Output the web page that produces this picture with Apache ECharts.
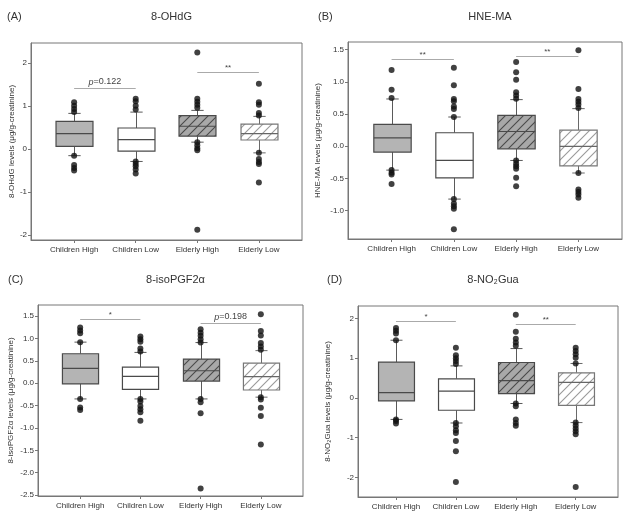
<!DOCTYPE html>
<html><head><meta charset="utf-8">
<script src="https://cdn.jsdelivr.net/npm/echarts@6/dist/echarts.min.js"></script>
<style>html,body{margin:0;padding:0;background:#fff}#c{width:632px;height:514px}</style>
</head><body><div id="c"></div>
<script>
const categories = ['Children High', 'Children Low', 'Elderly High', 'Elderly Low'];

// box stats per group: [lower whisker, Q1, median, Q3, upper whisker]
const ohdgBoxes = [[-0.155, 0.06, 0.36, 0.645, 0.83], [-0.29, -0.05, 0.22, 0.49, 0.86], [0.16, 0.30, 0.53, 0.78, 0.90], [-0.09, 0.21, 0.36, 0.58, 0.76]];
const ohdgOutliers = [[1.09, 1.01, 0.93, 0.86, -0.155, -0.37, -0.44, -0.5], [1.17, 1.11, 1.01, 0.92, -0.29, -0.35, -0.40, -0.48, -0.57], [2.25, 1.17, 1.10, 1.03, 0.96, 0.155, 0.085, 0.02, -0.03, -1.88], [1.52, 1.09, 1.03, 0.84, 0.78, -0.09, -0.23, -0.30, -0.35, -0.78]];
const ohdgSig = [[1, 2, 1.41, '{i|p}=0.122'], [3, 4, 1.79, '**']];
const ohdgTicks = [-2, -1, 0, 1, 2];

const hneBoxes = [[-0.37, -0.09, 0.13, 0.34, 0.735], [-0.82, -0.49, -0.22, 0.21, 0.455], [-0.22, -0.04, 0.23, 0.48, 0.725], [-0.415, -0.305, 0.0, 0.25, 0.585]];
const hneOutliers = [[1.185, 0.88, 0.75, -0.37, -0.41, -0.44, -0.585], [1.22, 0.95, 0.735, 0.70, 0.62, 0.58, 0.455, -0.82, -0.89, -0.93, -0.97, -1.29], [1.31, 1.15, 1.035, 0.84, 0.79, 0.74, -0.22, -0.27, -0.31, -0.35, -0.49, -0.62], [1.49, 0.89, 0.735, 0.69, 0.65, 0.595, -0.415, -0.67, -0.71, -0.75, -0.80]];
const hneSig = [[1, 2, 1.36, '**'], [3, 4, 1.41, '**']];
const hneTicks = [-1.0, -0.5, 0.0, 0.5, 1.0, 1.5];

const isoBoxes = [[-0.35, -0.015, 0.335, 0.66, 0.92], [-0.35, -0.135, 0.155, 0.36, 0.69], [-0.35, 0.05, 0.28, 0.54, 0.91], [-0.31, -0.15, 0.15, 0.45, 0.73]];
const isoOutliers = [[1.245, 1.18, 1.12, 0.92, -0.35, -0.54, -0.6], [1.045, 0.985, 0.93, 0.78, 0.71, -0.35, -0.41, -0.51, -0.58, -0.65, -0.84], [1.21, 1.13, 1.06, 0.985, 0.91, -0.35, -0.425, -0.67, -2.35], [1.545, 1.17, 1.07, 0.9, 0.82, 0.75, -0.31, -0.36, -0.545, -0.73, -1.37]];
const isoSig = [[1, 2, 1.43, '*'], [3, 4, 1.34, '{i|p}=0.198']];
const isoTicks = [-2.5, -2.0, -1.5, -1.0, -0.5, 0.0, 0.5, 1.0, 1.5];

const no2Boxes = [[-0.54, -0.075, 0.135, 0.9, 1.45], [-0.63, -0.31, 0.17, 0.48, 0.805], [-0.14, 0.11, 0.435, 0.89, 1.24], [-0.62, -0.185, 0.39, 0.63, 0.865]];
const no2Outliers = [[1.76, 1.69, 1.62, 1.45, -0.54, -0.58, -0.64], [1.26, 1.07, 1.0, 0.93, 0.85, -0.63, -0.71, -0.81, -0.88, -1.08, -1.34, -2.11], [2.09, 1.66, 1.49, 1.39, 1.31, -0.14, -0.21, -0.54, -0.63, -0.70], [1.26, 1.18, 1.1, 1.01, 0.865, -0.62, -0.69, -0.77, -0.84, -0.91, -2.24]];
const no2Sig = [[1, 2, 1.94, '*'], [3, 4, 1.87, '**']];
const no2Ticks = [-2, -1, 0, 1, 2];

// ---------- styling / layout ----------
function hatch(bg, fg) {
  const s = 9;
  const c = document.createElement('canvas');
  c.width = s; c.height = s;
  const g = c.getContext('2d');
  g.fillStyle = bg; g.fillRect(0, 0, s, s);
  g.strokeStyle = fg; g.lineWidth = 1.1;
  g.beginPath();
  g.moveTo(-1, s + 1); g.lineTo(s + 1, -1);
  g.moveTo(-1, 1); g.lineTo(1, -1);
  g.moveTo(s - 1, s + 1); g.lineTo(s + 1, s - 1);
  g.stroke();
  return { image: c, repeat: 'repeat' };
}
const boxStyles = [
  { fill: '#b4b4b4', stroke: '#4a4a4a', median: '#4a4a4a', whisker: '#5a5a5a' },
  { fill: '#ffffff', stroke: '#4a4a4a', median: '#4a4a4a', whisker: '#5a5a5a' },
  { fill: hatch('#a8a8a8', '#4a4a4a'), stroke: '#4a4a4a', median: '#4a4a4a', whisker: '#5a5a5a' },
  { fill: hatch('#ffffff', '#9a9a9a'), stroke: '#777', median: '#666', whisker: '#6a6a6a' }
];

const panels = [
  { tag: '(A)', title: '8-OHdG', yName: '8-OHdG levels (μg/g-creatinine)', boxes: ohdgBoxes, outliers: ohdgOutliers, sig: ohdgSig, ticks: ohdgTicks, dec: 0,
    ymin: -2.12, ymax: 2.47, xmin: 0.3, xmax: 4.7, grid: { left: 31, top: 43, width: 271, height: 197 }, nameGap: 15, tagX: 2, titleY: 6 },
  { tag: '(B)', title: 'HNE-MA', yName: 'HNE-MA levels (μg/g-creatinine)', boxes: hneBoxes, outliers: hneOutliers, sig: hneSig, ticks: hneTicks, dec: 1,
    ymin: -1.44, ymax: 1.62, xmin: 0.3, xmax: 4.7, grid: { left: 348, top: 42, width: 274, height: 197 }, nameGap: 26, tagX: 313, titleY: 6 },
  { tag: '(C)', title: '8-isoPGF2α', yName: '8-isoPGF2α levels (μg/g-creatinine)', boxes: isoBoxes, outliers: isoOutliers, sig: isoSig, ticks: isoTicks, dec: 1,
    ymin: -2.52, ymax: 1.75, xmin: 0.3, xmax: 4.7, grid: { left: 38, top: 305, width: 265, height: 191 }, nameGap: 23, tagX: 3, titleY: 269 },
  { tag: '(D)', title: '8-NO₂Gua', yName: '8-NO₂Gua levels (μg/g-creatinine)', boxes: no2Boxes, outliers: no2Outliers, sig: no2Sig, ticks: no2Ticks, dec: 0,
    ymin: -2.49, ymax: 2.31, xmin: 0.366, xmax: 4.706, grid: { left: 358, top: 306, width: 260, height: 191 }, nameGap: 26, tagX: 322, titleY: 269 }
];

const AX = '#777', TXT = '#333';
const grids = [], xAxes = [], yAxes = [], series = [], titles = [];

panels.forEach((p, k) => {
  grids.push(Object.assign({ show: true, borderColor: AX, borderWidth: 1, containLabel: false }, p.grid));
  xAxes.push({
    type: 'value', gridIndex: k, min: p.xmin, max: p.xmax,
    axisLine: { show: true, onZero: false, lineStyle: { color: AX } },
    axisTick: { show: true, customValues: [1, 2, 3, 4], length: 3, lineStyle: { color: AX } },
    axisLabel: { customValues: [1, 2, 3, 4], formatter: v => categories[Math.round(v) - 1], fontSize: 8, color: TXT, margin: 6 },
    splitLine: { show: false }
  });
  yAxes.push({
    type: 'value', gridIndex: k, min: p.ymin, max: p.ymax,
    axisLine: { show: true, onZero: false, lineStyle: { color: AX } },
    axisTick: { show: true, customValues: p.ticks, length: 3, lineStyle: { color: AX } },
    axisLabel: { customValues: p.ticks, formatter: v => v.toFixed(p.dec), fontSize: 8, color: TXT, margin: 4 },
    splitLine: { show: false },
    name: p.yName, nameLocation: 'middle', nameGap: p.nameGap,
    nameTextStyle: { fontSize: 8, color: TXT }
  });
  const cx = p.grid.left + p.grid.width / 2;
  titles.push({ text: p.title, left: cx, top: p.titleY, textAlign: 'center', textStyle: { fontSize: 11, fontWeight: 'normal', color: TXT } });
  titles.push({ text: p.tag, left: p.tagX, top: p.titleY, textStyle: { fontSize: 11, fontWeight: 'normal', color: TXT } });

  // boxes
  series.push({
    type: 'custom', xAxisIndex: k, yAxisIndex: k,
    data: p.boxes.map((b, i) => [i + 1].concat(b)),
    encode: { x: 0, y: [1, 2, 3, 4, 5] },
    renderItem: function (params, api) {
      const x = api.value(0);
      const lo = api.coord([x, api.value(1)]);
      const q1 = api.coord([x, api.value(2)]);
      const md = api.coord([x, api.value(3)]);
      const q3 = api.coord([x, api.value(4)]);
      const hi = api.coord([x, api.value(5)]);
      const bw = api.size([0.6, 0])[0];
      const cw = api.size([0.2, 0])[0];
      const st = boxStyles[params.dataIndex];
      const c = Math.round(lo[0]) + 0.5;
      const ws = { stroke: st.whisker, lineWidth: 1 };
      return {
        type: 'group', children: [
          { type: 'line', shape: { x1: c, y1: q3[1], x2: c, y2: hi[1] }, style: ws },
          { type: 'line', shape: { x1: c, y1: q1[1], x2: c, y2: lo[1] }, style: ws },
          { type: 'line', shape: { x1: c - cw / 2, y1: hi[1], x2: c + cw / 2, y2: hi[1] }, style: ws },
          { type: 'line', shape: { x1: c - cw / 2, y1: lo[1], x2: c + cw / 2, y2: lo[1] }, style: ws },
          { type: 'rect', shape: { x: c - bw / 2, y: q3[1], width: bw, height: q1[1] - q3[1] }, style: { fill: st.fill, stroke: st.stroke, lineWidth: 1.2 } },
          { type: 'line', shape: { x1: c - bw / 2, y1: md[1], x2: c + bw / 2, y2: md[1] }, style: { stroke: st.median, lineWidth: 1.2 } }
        ]
      };
    },
    z: 2, animation: false
  });
  // outliers
  series.push({
    type: 'scatter', xAxisIndex: k, yAxisIndex: k,
    data: p.outliers.flatMap((arr, i) => arr.map(v => [i + 1, v])),
    symbol: 'circle', symbolSize: 6,
    itemStyle: { color: '#111' },
    z: 4, animation: false
  });
  // significance bars
  series.push({
    type: 'custom', xAxisIndex: k, yAxisIndex: k,
    data: p.sig.map(s => [s[0], s[1], s[2]]),
    encode: { x: [0, 1], y: 2 },
    renderItem: function (params, api) {
      const a = api.coord([api.value(0), api.value(2)]);
      const b = api.coord([api.value(1), api.value(2)]);
      const label = p.sig[params.dataIndex][3];
      const y = Math.round(a[1]) + 0.5;
      const star = label.indexOf('*') === 0;
      return {
        type: 'group', children: [
          { type: 'line', shape: { x1: a[0], y1: y, x2: b[0], y2: y }, style: { stroke: '#aaa', lineWidth: 1 } },
          { type: 'text', x: (a[0] + b[0]) / 2, y: y - (star ? 1 : 2),
            style: { text: label, align: 'center', verticalAlign: 'bottom', fontSize: star ? 8 : 9, fill: '#444',
              fontFamily: 'Liberation Sans, Arial, sans-serif',
              rich: { i: { fontStyle: 'italic', fontSize: 9, fill: '#444', fontFamily: 'Liberation Sans, Arial, sans-serif' } } } }
        ]
      };
    },
    z: 3, animation: false
  });
});

const chart = echarts.init(document.getElementById('c'), null, { renderer: 'canvas' });
chart.setOption({
  backgroundColor: '#fff',
  animation: false,
  textStyle: { fontFamily: 'Liberation Sans, Arial, sans-serif' },
  title: titles,
  grid: grids,
  xAxis: xAxes,
  yAxis: yAxes,
  series: series
});
</script>
</body></html>
